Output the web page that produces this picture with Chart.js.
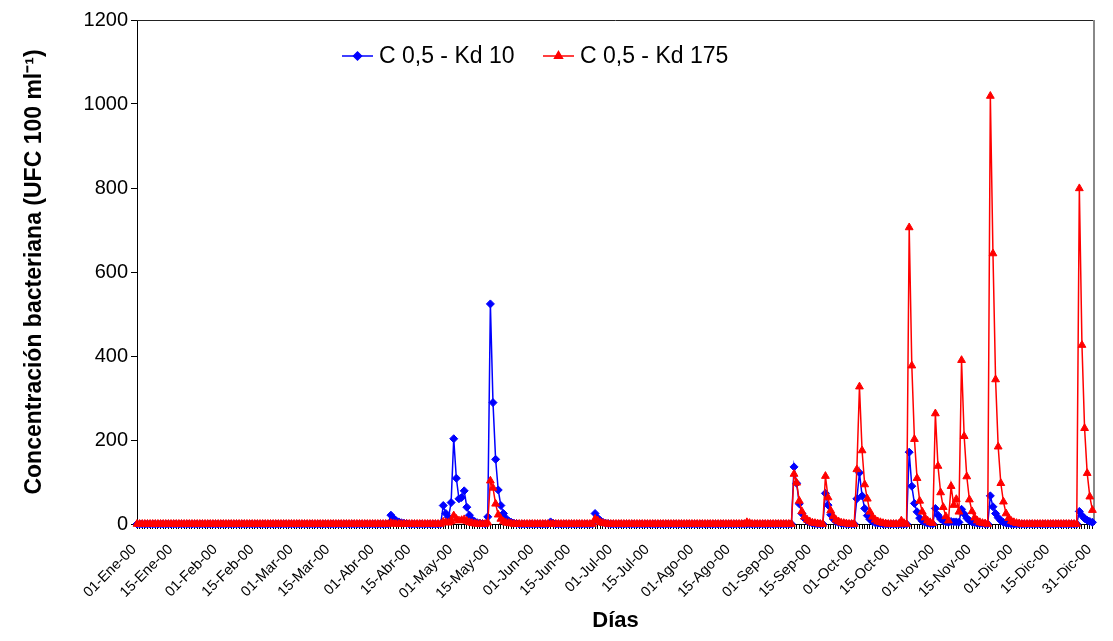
<!DOCTYPE html>
<html>
<head>
<meta charset="utf-8">
<script src="https://cdn.jsdelivr.net/npm/chart.js@4.4.0/dist/chart.umd.min.js"></script>
<style>
  html, body { margin: 0; padding: 0; background: #fff; }
  #wrap { width: 1113px; height: 641px; position: relative; }
</style>
</head>
<body>
<div id="wrap"><canvas id="chart"></canvas></div>
<script>
// daily values, 01-Ene-00 .. 31-Dic-00 (one line per month)
const kd10 = [].concat(
  [0,0,0,0,0,0,0,0,0,0,0,0,0,0,0,0,0,0,0,0,0,0,0,0,0,0,0,0,0,0,0],
  [0,0,0,0,0,0,0,0,0,0,0,0,0,0,0,0,0,0,0,0,0,0,0,0,0,0,0,0,0],
  [0,0,0,0,0,0,0,0,0,0,0,0,0,0,0,0,0,0,0,0,0,0,0,0,0,0,0,0,0,0,0],
  [0,0,0,0,0,0,21,13,8,5,3,2,1,0,0,0,0,0,0,0,0,0,0,0,0,0,44,25,16,51],
  [203,109,60,63,79,40,21,10,6,3,2,1,0,17,524,289,154,81,44,25,13,7,4,2,1,0,0,0,0,0,0],
  [0,0,0,0,0,0,5,2,0,0,0,0,0,0,0,0,0,0,0,0,0,0,0,25,14,8,4,2,1,0],
  [0,0,0,0,0,0,0,0,0,0,0,0,0,0,0,0,0,0,0,0,0,0,0,0,0,0,0,0,0,0,0],
  [0,0,0,0,0,0,0,0,0,0,0,0,0,0,0,0,0,0,0,0,0,0,0,0,0,0,0,0,0,0,0],
  [0,0,0,0,0,0,0,136,97,48,25,13,7,4,2,1,0,0,0,73,45,22,12,6,3,2,1,0,0,0],
  [0,60,122,67,37,20,11,6,3,2,1,0,0,0,0,0,0,0,0,0,0,171,90,49,29,14,7,4,2,1,0],
  [37,21,12,8,5,4,6,5,5,4,35,24,14,8,5,3,2,1,1,0,0,67,41,25,15,8,4,2,1,0],
  [0,0,0,0,0,0,0,0,0,0,0,0,0,0,0,0,0,0,0,0,0,0,0,0,0,30,20,13,9,6,4]
);
const kd175 = [].concat(
  [0,0,0,0,0,0,0,0,0,0,0,0,0,0,0,0,0,0,0,0,0,0,0,0,0,0,0,0,0,0,0],
  [0,0,0,0,0,0,0,0,0,0,0,0,0,0,0,0,0,0,0,0,0,0,0,0,0,0,0,0,0],
  [0,0,0,0,0,0,0,0,0,0,0,0,0,0,0,0,0,0,0,0,0,0,0,0,0,0,0,0,0,0,0],
  [0,0,0,0,0,0,2,1,0,0,0,0,0,0,0,0,0,0,0,0,0,0,0,0,0,0,5,4,3,6],
  [20,12,8,9,11,7,4,2,1,0,0,0,0,3,103,86,48,22,12,6,3,2,1,0,0,0,0,0,0,0,0],
  [0,0,0,0,0,0,0,0,0,0,0,0,0,0,0,0,0,0,0,0,0,0,0,12,8,4,2,1,0,0],
  [0,0,0,0,0,0,0,0,0,0,0,0,0,0,0,0,0,0,0,0,0,0,0,0,0,0,0,0,0,0,0],
  [0,0,0,0,0,0,0,0,0,0,0,0,0,0,0,0,0,0,0,0,4,2,0,0,0,0,0,0,0,0,0],
  [0,0,0,0,0,0,0,119,98,55,30,17,10,6,3,2,1,0,0,114,63,32,18,10,6,3,2,1,0,0],
  [0,130,327,175,94,60,29,17,10,6,4,2,1,0,0,0,0,0,8,2,0,706,377,202,109,55,29,15,8,4,2],
  [263,138,75,40,18,8,90,45,59,29,390,209,113,58,30,15,8,4,2,1,0,1019,644,344,184,97,53,25,14,7],
  [4,2,1,0,0,0,0,0,0,0,0,0,0,0,0,0,0,0,0,0,0,0,0,0,0,799,426,228,121,65,33]
);

// labelled days on the date axis
const tickDays = [0,14,31,45,60,74,91,105,121,135,152,166,182,196,213,227,244,258,274,288,305,319,335,349,365];
const tickLabels = ['01-Ene-00','15-Ene-00','01-Feb-00','15-Feb-00','01-Mar-00','15-Mar-00','01-Abr-00','15-Abr-00',
  '01-May-00','15-May-00','01-Jun-00','15-Jun-00','01-Jul-00','15-Jul-00','01-Ago-00','15-Ago-00',
  '01-Sep-00','15-Sep-00','01-Oct-00','15-Oct-00','01-Nov-00','15-Nov-00','01-Dic-00','15-Dic-00','31-Dic-00'];
const yTicks = [0, 200, 400, 600, 800, 1000, 1200];
const seriesNames = ['C 0,5 - Kd 10', 'C 0,5 - Kd 175'];

const FONT = "'Liberation Sans', Arial, sans-serif";
Chart.defaults.font.family = FONT;
Chart.defaults.color = '#000';

const toPoints = arr => arr.map((v, i) => ({ x: i, y: v }));
const labelByDay = {};
tickDays.forEach((d, i) => { labelByDay[d] = tickLabels[i]; });

// plot box: dark top edge, grey right edge
const frame = {
  id: 'frame',
  beforeDatasetsDraw(chart) {
    const { ctx, chartArea: a } = chart;
    ctx.save();
    ctx.lineWidth = 1;
    ctx.strokeStyle = '#222';
    ctx.beginPath(); ctx.moveTo(a.left, a.top + 0.5); ctx.lineTo(a.right, a.top + 0.5); ctx.stroke();
    ctx.strokeStyle = '#888';
    ctx.lineWidth = 2;
    ctx.beginPath(); ctx.moveTo(a.right, a.top); ctx.lineTo(a.right, a.bottom); ctx.stroke();
    ctx.restore();
  }
};

// legend inside the plot, like the Excel one
const legendBox = {
  id: 'legendBox',
  afterDraw(chart) {
    const { ctx } = chart;
    const items = [
      { x: 342, color: '#0000ff', style: 'rectRot', r: 4 },
      { x: 543, color: '#ff0000', style: 'triangle', r: 4.5 }
    ];
    const y = 56;
    ctx.save();
    ctx.font = '23px ' + FONT;
    ctx.textBaseline = 'middle';
    items.forEach((it, i) => {
      ctx.strokeStyle = it.color;
      ctx.fillStyle = it.color;
      ctx.lineWidth = 1.5;
      ctx.beginPath(); ctx.moveTo(it.x, y); ctx.lineTo(it.x + 31, y); ctx.stroke();
      Chart.helpers.drawPoint(ctx, { pointStyle: it.style, radius: it.r, borderWidth: 1 }, it.x + 15.5, y);
      ctx.fillStyle = '#000';
      ctx.fillText(seriesNames[i], it.x + 37, y + 1);
    });
    ctx.restore();
  }
};

new Chart(document.getElementById('chart'), {
  type: 'line',
  data: {
    datasets: [
      {
        label: seriesNames[0],
        data: toPoints(kd10),
        borderColor: '#0000ff',
        backgroundColor: '#0000ff',
        borderWidth: 1.5,
        pointStyle: 'rectRot',
        pointRadius: 4,
        pointBorderWidth: 1,
        clip: false,
        order: 2
      },
      {
        label: seriesNames[1],
        data: toPoints(kd175),
        borderColor: '#ff0000',
        backgroundColor: '#ff0000',
        borderWidth: 1.5,
        pointStyle: 'triangle',
        pointRadius: 4.5,
        pointBorderWidth: 1,
        clip: false,
        order: 1
      }
    ]
  },
  options: {
    responsive: true,
    maintainAspectRatio: false,
    animation: false,
    layout: { padding: { top: 20, right: 19, left: 0, bottom: 0 } },
    plugins: {
      legend: { display: false },
      tooltip: { enabled: false }
    },
    elements: { line: { tension: 0 } },
    scales: {
      x: {
        type: 'linear',
        min: 0,
        max: 365.6,
        afterBuildTicks: scale => {
          const t = [];
          for (let d = 0; d < kd10.length; d++) t.push({ value: d });
          scale.ticks = t;
        },
        afterFit: scale => {
          scale.height = 117;
          scale.paddingLeft = 0;
          scale.paddingRight = 0;
        },
        grid: { drawOnChartArea: false, drawTicks: true, tickLength: 5, color: '#000', lineWidth: 1 },
        border: { display: true, color: '#000', width: 1 },
        ticks: {
          autoSkip: false,
          minRotation: 45,
          maxRotation: 45,
          padding: 12,
          labelOffset: -3,
          font: { size: 14.5 },
          callback: v => labelByDay[v] || ''
        },
        title: { display: true, text: 'Días', font: { size: 22, weight: 'bold' }, padding: { top: 0, bottom: 7 } }
      },
      y: {
        min: 0,
        max: 1200,
        afterBuildTicks: scale => { scale.ticks = yTicks.map(v => ({ value: v })); },
        afterFit: scale => { scale.width = 137; },
        grid: { drawOnChartArea: false, drawTicks: true, tickLength: 6, color: '#000' },
        border: { display: true, color: '#000', width: 1 },
        ticks: { padding: 3, font: { size: 20 }, callback: v => String(v) },
        title: {
          display: true,
          text: 'Concentración bacteriana (UFC 100 ml⁻¹)',
          font: { size: 23, weight: 'bold' },
          padding: { top: 21, bottom: 0 }
        }
      }
    }
  },
  plugins: [frame, legendBox]
});
</script>
</body>
</html>
